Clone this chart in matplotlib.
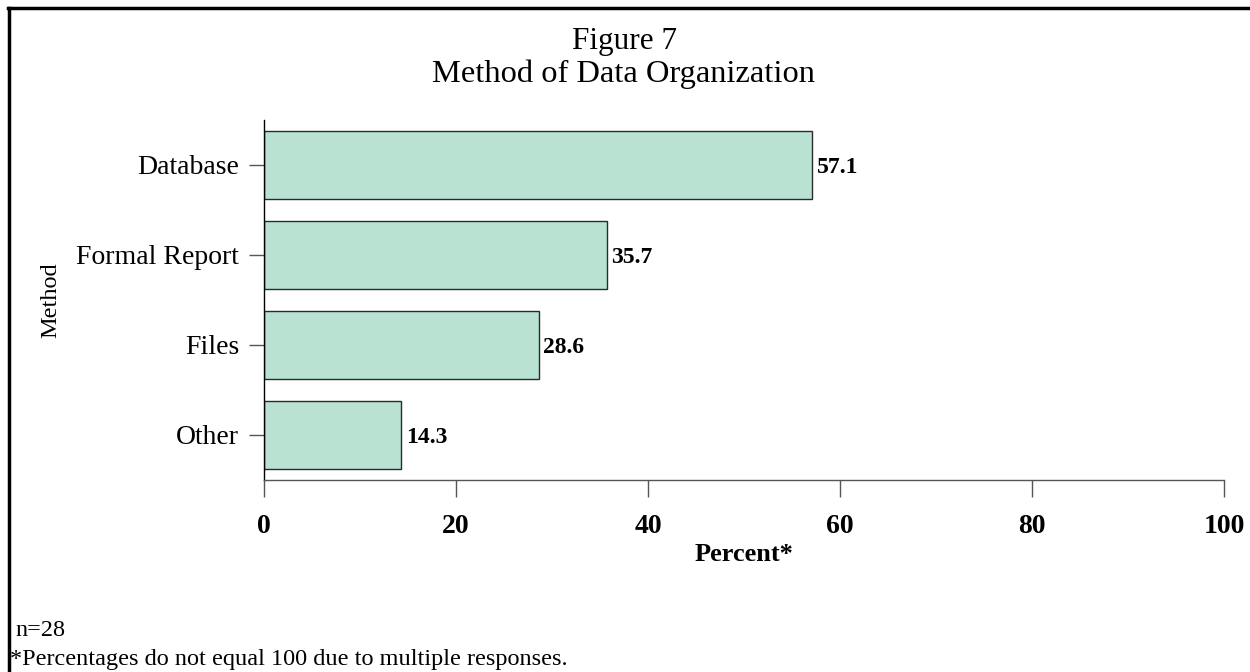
import matplotlib
matplotlib.use("Agg")
import matplotlib.pyplot as plt
from matplotlib.lines import Line2D

categories = ["Database", "Formal Report", "Files", "Other"]
values = [57.1, 35.7, 28.6, 14.3]
xticks = [0, 20, 40, 60, 80, 100]

plt.rcParams['font.family'] = ['Liberation Serif', 'DejaVu Serif']

fig = plt.figure(figsize=(12.5, 6.72), dpi=100)
ax = fig.add_axes([264/1250, 1-480/672, 960/1250, 360/672])

ypos = list(range(len(categories)))
ax.barh(ypos, values, height=0.75, color='#b9e2d3', edgecolor='#2a2a2a', linewidth=1.0, zorder=2)
for y, v in zip(ypos, values):
    ax.text(v + 0.5, y, f"{v:.1f}", va='center_baseline', ha='left', fontsize=17, fontweight='bold', color='black')

ax.set_ylim(3.5, -0.5)
ax.set_xlim(0, 100)
ax.set_yticks(ypos)
ax.set_yticklabels(categories, fontsize=20)
ax.set_xticks(xticks)
ax.set_xticklabels([str(t) for t in xticks], fontsize=20, fontweight='bold')
ax.tick_params(axis='y', length=11, width=1, color='#555555', pad=7)
ax.tick_params(axis='x', length=12.5, width=1, color='#555555', pad=12)
for s in ['top', 'right']:
    ax.spines[s].set_visible(False)
ax.spines['left'].set_color('black')
ax.spines['bottom'].set_color('#555555')
ax.spines['left'].set_linewidth(1)
ax.spines['bottom'].set_linewidth(1)

ax.set_xlabel("Percent*", fontsize=19, fontweight='bold', labelpad=3)
ax.set_ylabel("Method", fontsize=17.5, labelpad=0)
ax.yaxis.set_label_coords((61 - 264) / 960, 0.5)

fig.text(0.5, 1 - 41/672, "Figure 7", ha='center', va='center', fontsize=22.5)
fig.text(0.499, 1 - 74/672, "Method of Data Organization", ha='center', va='center', fontsize=23.4)

fig.text(15/1250, 1 - 630/672, "n=28", ha='left', va='center', fontsize=17.5)
fig.text(10/1250, 1 - 660/672, "*Percentages do not equal 100 due to multiple responses.", ha='left', va='center', fontsize=17.5)

fig.add_artist(Line2D([8/1250, 1], [1 - 8/672, 1 - 8/672], transform=fig.transFigure, color='black', linewidth=2.5))
fig.add_artist(Line2D([9/1250, 9/1250], [0, 1 - 8/672], transform=fig.transFigure, color='black', linewidth=2.5))

fig.savefig("out.png", dpi=100, facecolor='white')
